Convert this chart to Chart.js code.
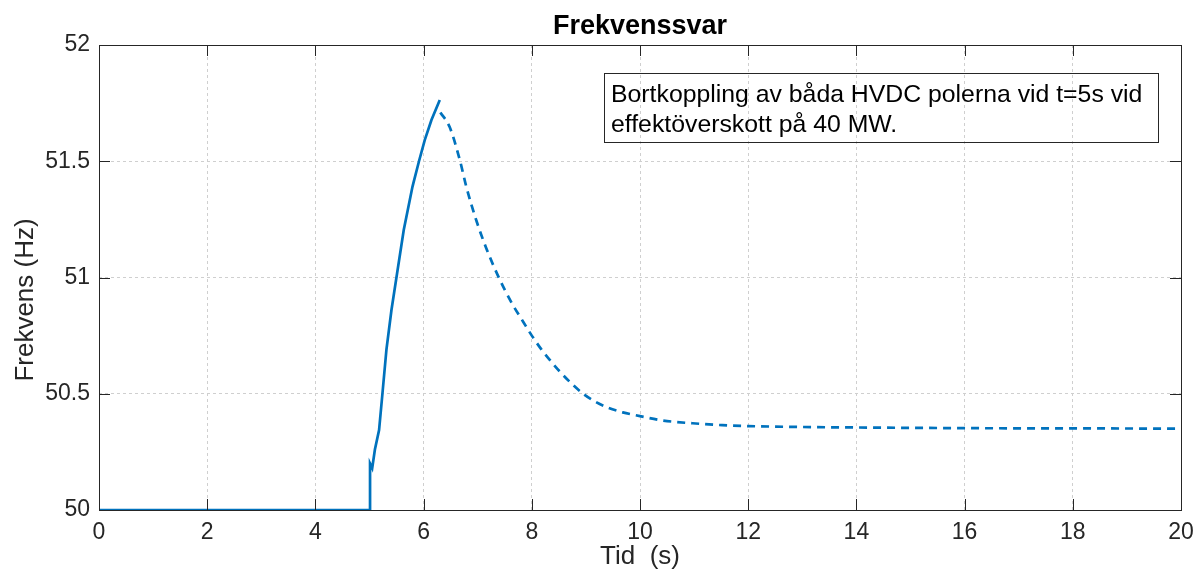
<!DOCTYPE html>
<html>
<head>
<meta charset="utf-8">
<script src="https://cdn.jsdelivr.net/npm/chart.js@4.4.1/dist/chart.umd.min.js"></script>
<style>
  html, body { margin: 0; padding: 0; background: #ffffff; }
  #wrap { width: 1195px; height: 570px; }
</style>
</head>
<body>
<div id="wrap"><canvas id="c" width="1195" height="570"></canvas></div>
<script>
// Frequency response after disconnecting both HVDC poles at t = 5 s
const titleText = 'Frekvenssvar';
const xTitle = 'Tid  (s)';
const yTitle = 'Frekvens (Hz)';
const noteLines = ['Bortkoppling av båda HVDC polerna vid t=5s vid', 'effektöverskott på 40 MW.'];

// Axis ranges and tick steps
const xRange = [0, 20];
const yRange = [50, 52];
const xStep = 2;
const yStep = 0.5;

// Solid part: steady 50 Hz, step at t = 5 s, rise to the peak
const solidTime = [0, 5.01, 5.01, 5.05, 5.10, 5.177, 5.239, 5.313, 5.406, 5.498, 5.633, 5.794, 5.81, 5.916, 6.021, 6.145, 6.299];
const solidFreq = [50, 50, 50.20, 50.18, 50.26, 50.344, 50.50, 50.69, 50.86, 51.0, 51.204, 51.39, 51.405, 51.501, 51.591, 51.677, 51.763];

// Dashed part: decay towards the new steady state
const dashTime = [6.31, 6.48, 6.67, 6.79, 6.975, 7.16, 7.38, 7.63, 7.84, 8.0, 8.18, 8.37, 8.52, 8.73, 8.95, 9.16, 9.41, 9.68, 10.0, 10.42, 10.97, 11.52, 12.0, 13.0, 14.0, 16.0, 18.0, 20.0];
const dashFreq = [51.71, 51.648, 51.505, 51.39, 51.245, 51.125, 51.005, 50.89, 50.81, 50.75, 50.69, 50.635, 50.595, 50.545, 50.50, 50.468, 50.44, 50.42, 50.404, 50.385, 50.373, 50.365, 50.361, 50.357, 50.355, 50.352, 50.351, 50.35];

const lineColor = '#0072BD';
const axisColor = '#262626';
const gridColor = '#cfcfcf';
const fontFamily = '"Liberation Sans", Arial, Helvetica, sans-serif';

const toPoints = (xs, ys) => xs.map((x, i) => ({ x: x, y: ys[i] }));

// Box around the plot area with inward ticks on all four sides
const axesBox = {
  id: 'axesBox',
  afterDatasetsDraw(chart) {
    const { ctx, chartArea: a, scales } = chart;
    const tl = 11;
    ctx.save();
    ctx.strokeStyle = axisColor;
    ctx.lineWidth = 1;
    ctx.beginPath();
    scales.x.ticks.forEach(t => {
      const px = Math.round(scales.x.getPixelForValue(t.value)) + 0.5;
      ctx.moveTo(px, a.bottom); ctx.lineTo(px, a.bottom - tl);
      ctx.moveTo(px, a.top); ctx.lineTo(px, a.top + tl);
    });
    scales.y.ticks.forEach(t => {
      const py = Math.round(scales.y.getPixelForValue(t.value)) + 0.5;
      ctx.moveTo(a.left, py); ctx.lineTo(a.left + tl, py);
      ctx.moveTo(a.right, py); ctx.lineTo(a.right - tl, py);
    });
    ctx.stroke();
    ctx.strokeRect(Math.round(a.left) + 0.5, Math.round(a.top) + 0.5,
                   Math.round(a.right - a.left), Math.round(a.bottom - a.top));
    ctx.restore();
  }
};

// Title, axis labels and the text box
const labelsAndNote = {
  id: 'labelsAndNote',
  afterDraw(chart) {
    const { ctx, chartArea: a } = chart;
    const cx = (a.left + a.right) / 2;
    ctx.save();
    ctx.fillStyle = '#000000';
    ctx.textAlign = 'center';
    ctx.textBaseline = 'alphabetic';
    ctx.font = 'bold 27px ' + fontFamily;
    ctx.fillText(titleText, cx, 34);

    ctx.fillStyle = axisColor;
    ctx.font = '26px ' + fontFamily;
    ctx.fillText(xTitle, cx, 564);

    ctx.save();
    ctx.translate(33, 300);
    ctx.rotate(-Math.PI / 2);
    ctx.fillText(yTitle, 0, 0);
    ctx.restore();

    // Text box (no fill, grid shows through)
    ctx.strokeStyle = axisColor;
    ctx.lineWidth = 1;
    ctx.strokeRect(604.5, 73.5, 554, 69);
    ctx.fillStyle = '#000000';
    ctx.textAlign = 'left';
    ctx.font = '24.8px ' + fontFamily;
    ctx.fillText(noteLines[0], 611, 101.5);
    ctx.fillText(noteLines[1], 611, 131.5);
    ctx.restore();
  }
};

new Chart(document.getElementById('c'), {
  type: 'line',
  data: {
    datasets: [
      {
        data: toPoints(solidTime, solidFreq),
        borderColor: lineColor,
        borderWidth: 2.7,
        pointRadius: 0,
        tension: 0,
        fill: false
      },
      {
        data: toPoints(dashTime, dashFreq),
        borderColor: lineColor,
        borderWidth: 2.7,
        borderDash: [8, 6],
        pointRadius: 0,
        cubicInterpolationMode: 'monotone',
        fill: false
      }
    ]
  },
  plugins: [axesBox, labelsAndNote],
  options: {
    responsive: false,
    animation: false,
    devicePixelRatio: 1,
    layout: { padding: { top: 45, right: 14, left: 0, bottom: 0 } },
    plugins: {
      legend: { display: false },
      tooltip: { enabled: false },
      title: { display: false }
    },
    scales: {
      x: {
        type: 'linear',
        min: xRange[0],
        max: xRange[1],
        afterFit(scale) {
          scale.height = 60;
          scale.paddingLeft = 0;
          scale.paddingRight = 0;
        },
        ticks: {
          stepSize: xStep,
          padding: 9,
          color: axisColor,
          maxRotation: 0,
          font: { family: fontFamily, size: 23 }
        },
        grid: { color: gridColor, lineWidth: 1, drawTicks: false, tickLength: 0 },
        border: { display: false, dash: [3, 3] }
      },
      y: {
        type: 'linear',
        min: yRange[0],
        max: yRange[1],
        afterFit(scale) {
          scale.width = 99;
          scale.paddingTop = 0;
          scale.paddingBottom = 0;
        },
        ticks: {
          stepSize: yStep,
          padding: 9,
          color: axisColor,
          font: { family: fontFamily, size: 23 },
          callback: (v) => String(Math.round(v * 10) / 10)
        },
        grid: { color: gridColor, lineWidth: 1, drawTicks: false, tickLength: 0 },
        border: { display: false, dash: [3, 3] }
      }
    }
  }
});
</script>
</body>
</html>
